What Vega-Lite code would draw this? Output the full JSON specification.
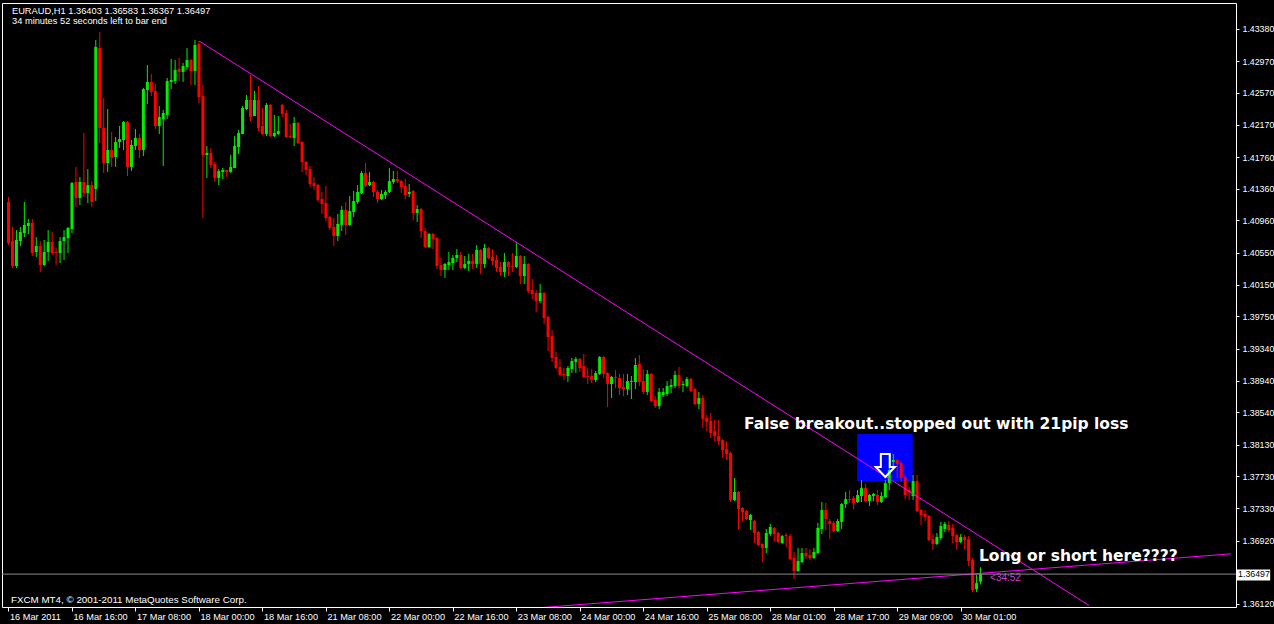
{
  "$schema": "https://vega.github.io/schema/vega-lite/v6.json",
  "width": 1234,
  "height": 604,
  "autosize": {"type": "none"},
  "padding": {"left": 2, "top": 3, "right": 38, "bottom": 17},
  "background": "#000000",
  "config": {
    "view": {"stroke": "#ffffff", "strokeWidth": 1, "fill": "#000000"},
    "font": "Liberation Sans",
    "axis": {"labelFont": "Liberation Sans", "labelOverlap": false, "labelBound": false, "labelFlush": false}
  },
  "datasets": {
    "bars": [
      {"i":0,"o":1.41193,"h":1.41256,"l":1.40650,"c":1.40675},
      {"i":1,"o":1.40700,"h":1.40878,"l":1.40360,"c":1.40385},
      {"i":2,"o":1.40385,"h":1.40839,"l":1.40360,"c":1.40713},
      {"i":3,"o":1.40700,"h":1.40878,"l":1.40637,"c":1.40814},
      {"i":4,"o":1.40801,"h":1.41193,"l":1.40751,"c":1.40903},
      {"i":5,"o":1.40890,"h":1.40978,"l":1.40789,"c":1.40928},
      {"i":6,"o":1.40928,"h":1.40978,"l":1.40511,"c":1.40549},
      {"i":7,"o":1.40562,"h":1.40751,"l":1.40499,"c":1.40637},
      {"i":8,"o":1.40637,"h":1.40700,"l":1.40310,"c":1.40398},
      {"i":9,"o":1.40398,"h":1.40713,"l":1.40385,"c":1.40562},
      {"i":10,"o":1.40562,"h":1.40839,"l":1.40448,"c":1.40688},
      {"i":11,"o":1.40688,"h":1.40814,"l":1.40524,"c":1.40549},
      {"i":12,"o":1.40562,"h":1.40612,"l":1.40398,"c":1.40549},
      {"i":13,"o":1.40549,"h":1.40751,"l":1.40423,"c":1.40700},
      {"i":14,"o":1.40700,"h":1.40839,"l":1.40461,"c":1.40751},
      {"i":15,"o":1.40738,"h":1.40878,"l":1.40549,"c":1.40865},
      {"i":16,"o":1.40852,"h":1.41445,"l":1.40801,"c":1.41432},
      {"i":17,"o":1.41445,"h":1.41635,"l":1.41130,"c":1.41243},
      {"i":18,"o":1.41243,"h":1.41509,"l":1.41155,"c":1.41445},
      {"i":19,"o":1.41445,"h":1.42063,"l":1.41256,"c":1.41306},
      {"i":20,"o":1.41306,"h":1.41609,"l":1.41180,"c":1.41407},
      {"i":21,"o":1.41407,"h":1.41457,"l":1.41130,"c":1.41193},
      {"i":22,"o":1.41356,"h":1.43237,"l":1.41205,"c":1.43149},
      {"i":23,"o":1.43136,"h":1.43338,"l":1.41937,"c":1.42127},
      {"i":24,"o":1.42127,"h":1.42505,"l":1.41559,"c":1.41685},
      {"i":25,"o":1.41685,"h":1.42366,"l":1.41572,"c":1.41849},
      {"i":26,"o":1.41849,"h":1.42076,"l":1.41635,"c":1.41748},
      {"i":27,"o":1.41761,"h":1.42013,"l":1.41635,"c":1.41950},
      {"i":28,"o":1.41950,"h":1.42152,"l":1.41874,"c":1.41987},
      {"i":29,"o":1.41975,"h":1.42215,"l":1.41849,"c":1.42203},
      {"i":30,"o":1.42203,"h":1.42215,"l":1.41521,"c":1.41635},
      {"i":31,"o":1.41635,"h":1.41975,"l":1.41584,"c":1.41912},
      {"i":32,"o":1.41899,"h":1.42114,"l":1.41849,"c":1.42000},
      {"i":33,"o":1.42000,"h":1.42051,"l":1.41748,"c":1.41849},
      {"i":34,"o":1.41849,"h":1.42631,"l":1.41773,"c":1.42618},
      {"i":35,"o":1.42606,"h":1.42922,"l":1.42430,"c":1.42707},
      {"i":36,"o":1.42707,"h":1.42809,"l":1.42530,"c":1.42581},
      {"i":37,"o":1.42593,"h":1.42682,"l":1.42114,"c":1.42152},
      {"i":38,"o":1.42152,"h":1.42404,"l":1.42051,"c":1.42266},
      {"i":39,"o":1.42240,"h":1.42354,"l":1.41647,"c":1.42316},
      {"i":40,"o":1.42291,"h":1.42758,"l":1.42240,"c":1.42719},
      {"i":41,"o":1.42707,"h":1.42997,"l":1.42618,"c":1.42732},
      {"i":42,"o":1.42719,"h":1.42985,"l":1.42682,"c":1.42859},
      {"i":43,"o":1.42871,"h":1.43010,"l":1.42719,"c":1.42834},
      {"i":44,"o":1.42834,"h":1.42947,"l":1.42707,"c":1.42909},
      {"i":45,"o":1.42897,"h":1.43136,"l":1.42859,"c":1.42985},
      {"i":46,"o":1.42985,"h":1.42997,"l":1.42669,"c":1.42846},
      {"i":47,"o":1.42846,"h":1.43237,"l":1.42669,"c":1.43174},
      {"i":48,"o":1.43187,"h":1.43224,"l":1.42442,"c":1.42518},
      {"i":49,"o":1.42530,"h":1.42669,"l":1.40991,"c":1.41786},
      {"i":50,"o":1.41786,"h":1.41899,"l":1.41496,"c":1.41811},
      {"i":51,"o":1.41811,"h":1.41874,"l":1.41622,"c":1.41660},
      {"i":52,"o":1.41673,"h":1.41698,"l":1.41445,"c":1.41496},
      {"i":53,"o":1.41496,"h":1.41609,"l":1.41407,"c":1.41584},
      {"i":54,"o":1.41572,"h":1.41622,"l":1.41483,"c":1.41597},
      {"i":55,"o":1.41597,"h":1.41597,"l":1.41509,"c":1.41572},
      {"i":56,"o":1.41572,"h":1.41786,"l":1.41559,"c":1.41635},
      {"i":57,"o":1.41622,"h":1.42025,"l":1.41622,"c":1.41899},
      {"i":58,"o":1.41887,"h":1.42101,"l":1.41799,"c":1.42063},
      {"i":59,"o":1.42051,"h":1.42404,"l":1.42051,"c":1.42379},
      {"i":60,"o":1.42366,"h":1.42543,"l":1.42354,"c":1.42480},
      {"i":61,"o":1.42480,"h":1.42796,"l":1.42215,"c":1.42266},
      {"i":62,"o":1.42278,"h":1.42593,"l":1.42278,"c":1.42480},
      {"i":63,"o":1.42480,"h":1.42656,"l":1.42088,"c":1.42127},
      {"i":64,"o":1.42152,"h":1.42379,"l":1.42038,"c":1.42051},
      {"i":65,"o":1.42051,"h":1.42442,"l":1.42025,"c":1.42417},
      {"i":66,"o":1.42417,"h":1.42430,"l":1.42013,"c":1.42025},
      {"i":67,"o":1.42025,"h":1.42291,"l":1.42013,"c":1.42063},
      {"i":68,"o":1.42051,"h":1.42278,"l":1.42038,"c":1.42088},
      {"i":69,"o":1.42417,"h":1.42430,"l":1.42266,"c":1.42304},
      {"i":70,"o":1.42316,"h":1.42354,"l":1.42000,"c":1.42013},
      {"i":71,"o":1.42025,"h":1.42178,"l":1.42000,"c":1.42013},
      {"i":72,"o":1.42000,"h":1.42266,"l":1.41899,"c":1.42190},
      {"i":73,"o":1.42190,"h":1.42203,"l":1.41925,"c":1.41937},
      {"i":74,"o":1.41950,"h":1.41962,"l":1.41572,"c":1.41698},
      {"i":75,"o":1.41698,"h":1.41710,"l":1.41534,"c":1.41597},
      {"i":76,"o":1.41609,"h":1.41647,"l":1.41382,"c":1.41420},
      {"i":77,"o":1.41432,"h":1.41509,"l":1.41344,"c":1.41394},
      {"i":78,"o":1.41407,"h":1.41420,"l":1.41193,"c":1.41218},
      {"i":79,"o":1.41230,"h":1.41319,"l":1.41042,"c":1.41168},
      {"i":80,"o":1.41180,"h":1.41394,"l":1.40953,"c":1.40991},
      {"i":81,"o":1.41004,"h":1.41016,"l":1.40839,"c":1.40865},
      {"i":82,"o":1.40878,"h":1.40991,"l":1.40637,"c":1.40763},
      {"i":83,"o":1.40763,"h":1.41042,"l":1.40700,"c":1.40916},
      {"i":84,"o":1.40903,"h":1.41142,"l":1.40826,"c":1.41092},
      {"i":85,"o":1.41092,"h":1.41193,"l":1.40776,"c":1.40903},
      {"i":86,"o":1.40903,"h":1.41268,"l":1.40890,"c":1.41079},
      {"i":87,"o":1.41067,"h":1.41331,"l":1.41004,"c":1.41205},
      {"i":88,"o":1.41193,"h":1.41407,"l":1.41168,"c":1.41319},
      {"i":89,"o":1.41306,"h":1.41584,"l":1.41294,"c":1.41559},
      {"i":90,"o":1.41559,"h":1.41685,"l":1.41382,"c":1.41394},
      {"i":91,"o":1.41407,"h":1.41572,"l":1.41394,"c":1.41445},
      {"i":92,"o":1.41445,"h":1.41457,"l":1.41256,"c":1.41319},
      {"i":93,"o":1.41319,"h":1.41344,"l":1.41180,"c":1.41230},
      {"i":94,"o":1.41230,"h":1.41344,"l":1.41218,"c":1.41294},
      {"i":95,"o":1.41281,"h":1.41344,"l":1.41230,"c":1.41319},
      {"i":96,"o":1.41319,"h":1.41622,"l":1.41306,"c":1.41457},
      {"i":97,"o":1.41445,"h":1.41584,"l":1.41420,"c":1.41483},
      {"i":98,"o":1.41483,"h":1.41584,"l":1.41432,"c":1.41457},
      {"i":99,"o":1.41457,"h":1.41470,"l":1.41306,"c":1.41382},
      {"i":100,"o":1.41394,"h":1.41483,"l":1.41230,"c":1.41281},
      {"i":101,"o":1.41294,"h":1.41420,"l":1.41256,"c":1.41319},
      {"i":102,"o":1.41331,"h":1.41344,"l":1.40966,"c":1.41054},
      {"i":103,"o":1.41054,"h":1.41155,"l":1.40941,"c":1.41104},
      {"i":104,"o":1.41104,"h":1.41117,"l":1.40738,"c":1.40826},
      {"i":105,"o":1.40826,"h":1.40865,"l":1.40612,"c":1.40625},
      {"i":106,"o":1.40625,"h":1.40801,"l":1.40612,"c":1.40789},
      {"i":107,"o":1.40789,"h":1.40801,"l":1.40599,"c":1.40725},
      {"i":108,"o":1.40738,"h":1.40751,"l":1.40347,"c":1.40385},
      {"i":109,"o":1.40398,"h":1.40486,"l":1.40259,"c":1.40335},
      {"i":110,"o":1.40335,"h":1.40423,"l":1.40234,"c":1.40411},
      {"i":111,"o":1.40398,"h":1.40562,"l":1.40335,"c":1.40436},
      {"i":112,"o":1.40423,"h":1.40524,"l":1.40335,"c":1.40486},
      {"i":113,"o":1.40486,"h":1.40599,"l":1.40436,"c":1.40524},
      {"i":114,"o":1.40524,"h":1.40562,"l":1.40347,"c":1.40360},
      {"i":115,"o":1.40360,"h":1.40511,"l":1.40347,"c":1.40411},
      {"i":116,"o":1.40411,"h":1.40537,"l":1.40322,"c":1.40448},
      {"i":117,"o":1.40448,"h":1.40537,"l":1.40347,"c":1.40411},
      {"i":118,"o":1.40411,"h":1.40650,"l":1.40360,"c":1.40587},
      {"i":119,"o":1.40587,"h":1.40599,"l":1.40285,"c":1.40411},
      {"i":120,"o":1.40411,"h":1.40663,"l":1.40360,"c":1.40612},
      {"i":121,"o":1.40612,"h":1.40625,"l":1.40473,"c":1.40486},
      {"i":122,"o":1.40499,"h":1.40599,"l":1.40398,"c":1.40448},
      {"i":123,"o":1.40461,"h":1.40524,"l":1.40310,"c":1.40360},
      {"i":124,"o":1.40373,"h":1.40436,"l":1.40259,"c":1.40310},
      {"i":125,"o":1.40310,"h":1.40549,"l":1.40247,"c":1.40436},
      {"i":126,"o":1.40436,"h":1.40448,"l":1.40259,"c":1.40373},
      {"i":127,"o":1.40385,"h":1.40549,"l":1.40310,"c":1.40373},
      {"i":128,"o":1.40373,"h":1.40688,"l":1.40360,"c":1.40511},
      {"i":129,"o":1.40511,"h":1.40524,"l":1.40158,"c":1.40259},
      {"i":130,"o":1.40259,"h":1.40511,"l":1.40158,"c":1.40411},
      {"i":131,"o":1.40411,"h":1.40423,"l":1.40044,"c":1.40069},
      {"i":132,"o":1.40082,"h":1.40221,"l":1.39968,"c":1.40032},
      {"i":133,"o":1.40044,"h":1.40082,"l":1.39805,"c":1.39943},
      {"i":134,"o":1.39943,"h":1.40158,"l":1.39918,"c":1.40044},
      {"i":135,"o":1.40044,"h":1.40057,"l":1.39654,"c":1.39729},
      {"i":136,"o":1.39742,"h":1.39754,"l":1.39312,"c":1.39489},
      {"i":137,"o":1.39501,"h":1.39577,"l":1.39174,"c":1.39224},
      {"i":138,"o":1.39237,"h":1.39300,"l":1.39085,"c":1.39098},
      {"i":139,"o":1.39111,"h":1.39211,"l":1.38997,"c":1.39010},
      {"i":140,"o":1.39023,"h":1.39098,"l":1.38946,"c":1.39010},
      {"i":141,"o":1.38997,"h":1.39123,"l":1.38921,"c":1.39098},
      {"i":142,"o":1.39085,"h":1.39224,"l":1.39035,"c":1.39186},
      {"i":143,"o":1.39174,"h":1.39237,"l":1.39035,"c":1.39211},
      {"i":144,"o":1.39211,"h":1.39224,"l":1.39048,"c":1.39098},
      {"i":145,"o":1.39123,"h":1.39275,"l":1.38972,"c":1.38985},
      {"i":146,"o":1.38997,"h":1.39098,"l":1.38896,"c":1.38985},
      {"i":147,"o":1.38997,"h":1.39085,"l":1.38908,"c":1.38946},
      {"i":148,"o":1.38946,"h":1.39060,"l":1.38921,"c":1.39035},
      {"i":149,"o":1.39023,"h":1.39249,"l":1.39010,"c":1.39237},
      {"i":150,"o":1.39237,"h":1.39249,"l":1.38972,"c":1.39023},
      {"i":151,"o":1.39035,"h":1.39048,"l":1.38606,"c":1.38896},
      {"i":152,"o":1.38896,"h":1.38997,"l":1.38719,"c":1.38985},
      {"i":153,"o":1.38985,"h":1.39073,"l":1.38845,"c":1.38972},
      {"i":154,"o":1.38972,"h":1.39023,"l":1.38757,"c":1.38845},
      {"i":155,"o":1.38858,"h":1.39023,"l":1.38744,"c":1.38832},
      {"i":156,"o":1.38832,"h":1.39023,"l":1.38757,"c":1.38933},
      {"i":157,"o":1.38921,"h":1.38997,"l":1.38706,"c":1.38933},
      {"i":158,"o":1.38921,"h":1.39224,"l":1.38832,"c":1.39136},
      {"i":159,"o":1.39149,"h":1.39262,"l":1.38870,"c":1.38921},
      {"i":160,"o":1.38933,"h":1.39085,"l":1.38770,"c":1.38795},
      {"i":161,"o":1.38795,"h":1.39073,"l":1.38757,"c":1.39023},
      {"i":162,"o":1.39023,"h":1.39035,"l":1.38669,"c":1.38681},
      {"i":163,"o":1.38694,"h":1.38744,"l":1.38593,"c":1.38618},
      {"i":164,"o":1.38618,"h":1.38845,"l":1.38580,"c":1.38795},
      {"i":165,"o":1.38757,"h":1.38845,"l":1.38732,"c":1.38795},
      {"i":166,"o":1.38770,"h":1.38933,"l":1.38744,"c":1.38870},
      {"i":167,"o":1.38858,"h":1.38959,"l":1.38782,"c":1.38883},
      {"i":168,"o":1.38870,"h":1.39060,"l":1.38845,"c":1.39010},
      {"i":169,"o":1.39010,"h":1.39111,"l":1.38845,"c":1.38870},
      {"i":170,"o":1.38883,"h":1.38933,"l":1.38795,"c":1.38896},
      {"i":171,"o":1.38870,"h":1.38985,"l":1.38858,"c":1.38959},
      {"i":172,"o":1.38959,"h":1.38972,"l":1.38795,"c":1.38807},
      {"i":173,"o":1.38832,"h":1.38845,"l":1.38631,"c":1.38644},
      {"i":174,"o":1.38644,"h":1.38795,"l":1.38580,"c":1.38719},
      {"i":175,"o":1.38719,"h":1.38757,"l":1.38341,"c":1.38454},
      {"i":176,"o":1.38467,"h":1.38505,"l":1.38302,"c":1.38417},
      {"i":177,"o":1.38429,"h":1.38530,"l":1.38214,"c":1.38277},
      {"i":178,"o":1.38302,"h":1.38442,"l":1.38176,"c":1.38239},
      {"i":179,"o":1.38239,"h":1.38442,"l":1.38126,"c":1.38176},
      {"i":180,"o":1.38189,"h":1.38201,"l":1.37962,"c":1.38063},
      {"i":181,"o":1.38075,"h":1.38176,"l":1.37937,"c":1.38013},
      {"i":182,"o":1.38025,"h":1.38038,"l":1.37407,"c":1.37432},
      {"i":183,"o":1.37432,"h":1.37710,"l":1.37419,"c":1.37533},
      {"i":184,"o":1.37533,"h":1.37545,"l":1.37066,"c":1.37318},
      {"i":185,"o":1.37331,"h":1.37344,"l":1.37167,"c":1.37281},
      {"i":186,"o":1.37293,"h":1.37306,"l":1.37180,"c":1.37192},
      {"i":187,"o":1.37180,"h":1.37256,"l":1.37053,"c":1.37243},
      {"i":188,"o":1.37167,"h":1.37180,"l":1.36889,"c":1.37015},
      {"i":189,"o":1.37028,"h":1.37040,"l":1.36851,"c":1.36864},
      {"i":190,"o":1.36877,"h":1.36889,"l":1.36650,"c":1.36826},
      {"i":191,"o":1.36826,"h":1.37066,"l":1.36763,"c":1.37015},
      {"i":192,"o":1.37003,"h":1.37130,"l":1.36977,"c":1.37092},
      {"i":193,"o":1.37079,"h":1.37092,"l":1.36902,"c":1.37003},
      {"i":194,"o":1.37015,"h":1.37028,"l":1.36889,"c":1.36902},
      {"i":195,"o":1.36889,"h":1.36990,"l":1.36877,"c":1.36977},
      {"i":196,"o":1.36990,"h":1.37015,"l":1.36839,"c":1.36977},
      {"i":197,"o":1.36977,"h":1.37003,"l":1.36675,"c":1.36687},
      {"i":198,"o":1.36700,"h":1.36776,"l":1.36435,"c":1.36536},
      {"i":199,"o":1.36536,"h":1.36826,"l":1.36523,"c":1.36662},
      {"i":200,"o":1.36650,"h":1.36826,"l":1.36637,"c":1.36763},
      {"i":201,"o":1.36763,"h":1.36826,"l":1.36687,"c":1.36725},
      {"i":202,"o":1.36738,"h":1.36813,"l":1.36675,"c":1.36700},
      {"i":203,"o":1.36700,"h":1.36826,"l":1.36687,"c":1.36776},
      {"i":204,"o":1.36763,"h":1.37142,"l":1.36751,"c":1.37079},
      {"i":205,"o":1.37066,"h":1.37407,"l":1.37003,"c":1.37306},
      {"i":206,"o":1.37306,"h":1.37394,"l":1.37053,"c":1.37192},
      {"i":207,"o":1.37167,"h":1.37192,"l":1.36939,"c":1.37130},
      {"i":208,"o":1.37142,"h":1.37167,"l":1.37028,"c":1.37040},
      {"i":209,"o":1.37040,"h":1.37192,"l":1.37028,"c":1.37167},
      {"i":210,"o":1.37155,"h":1.37394,"l":1.37066,"c":1.37382},
      {"i":211,"o":1.37382,"h":1.37533,"l":1.37331,"c":1.37444},
      {"i":212,"o":1.37444,"h":1.37558,"l":1.37394,"c":1.37432},
      {"i":213,"o":1.37457,"h":1.37482,"l":1.37318,"c":1.37394},
      {"i":214,"o":1.37407,"h":1.37558,"l":1.37394,"c":1.37495},
      {"i":215,"o":1.37482,"h":1.37684,"l":1.37407,"c":1.37583},
      {"i":216,"o":1.37583,"h":1.37634,"l":1.37407,"c":1.37419},
      {"i":217,"o":1.37419,"h":1.37508,"l":1.37356,"c":1.37495},
      {"i":218,"o":1.37482,"h":1.37520,"l":1.37419,"c":1.37508},
      {"i":219,"o":1.37495,"h":1.37558,"l":1.37369,"c":1.37407},
      {"i":220,"o":1.37407,"h":1.37533,"l":1.37394,"c":1.37482},
      {"i":221,"o":1.37470,"h":1.37684,"l":1.37457,"c":1.37646},
      {"i":222,"o":1.37646,"h":1.38013,"l":1.37558,"c":1.37811},
      {"i":223,"o":1.37912,"h":1.38013,"l":1.37849,"c":1.37937},
      {"i":224,"o":1.37937,"h":1.37949,"l":1.37710,"c":1.37887},
      {"i":225,"o":1.37899,"h":1.37912,"l":1.37659,"c":1.37710},
      {"i":226,"o":1.37723,"h":1.37748,"l":1.37444,"c":1.37495},
      {"i":227,"o":1.37558,"h":1.37596,"l":1.37432,"c":1.37533},
      {"i":228,"o":1.37482,"h":1.37748,"l":1.37432,"c":1.37671},
      {"i":229,"o":1.37671,"h":1.37748,"l":1.37281,"c":1.37293},
      {"i":230,"o":1.37306,"h":1.37318,"l":1.37117,"c":1.37243},
      {"i":231,"o":1.37256,"h":1.37306,"l":1.37167,"c":1.37218},
      {"i":232,"o":1.37230,"h":1.37243,"l":1.36914,"c":1.36927},
      {"i":233,"o":1.36939,"h":1.37003,"l":1.36801,"c":1.36877},
      {"i":234,"o":1.36877,"h":1.37015,"l":1.36864,"c":1.36965},
      {"i":235,"o":1.36952,"h":1.37155,"l":1.36927,"c":1.37104},
      {"i":236,"o":1.37066,"h":1.37155,"l":1.37028,"c":1.37130},
      {"i":237,"o":1.37117,"h":1.37167,"l":1.37028,"c":1.37053},
      {"i":238,"o":1.37079,"h":1.37130,"l":1.36889,"c":1.36977},
      {"i":239,"o":1.36990,"h":1.37003,"l":1.36801,"c":1.36902},
      {"i":240,"o":1.36902,"h":1.37003,"l":1.36889,"c":1.36965},
      {"i":241,"o":1.36965,"h":1.36990,"l":1.36813,"c":1.36927},
      {"i":242,"o":1.36939,"h":1.36977,"l":1.36599,"c":1.36662},
      {"i":243,"o":1.36675,"h":1.36700,"l":1.36271,"c":1.36296},
      {"i":244,"o":1.36308,"h":1.36486,"l":1.36271,"c":1.36384},
      {"i":245,"o":1.36403,"h":1.36583,"l":1.36367,"c":1.36497}
    ]
  },
  "layer": [
    {
      "data": {"values": [{"i": 213.9, "i2": 227.9, "p": 1.38265, "p2": 1.37672}]},
      "mark": {"type": "rect", "color": "#0000ff"},
      "encoding": {
        "x": {
          "field": "i", "type": "quantitative",
          "scale": {"domain": [-0.375, 308.125], "nice": false, "zero": false},
          "axis": {
            "orient": "bottom", "title": null, "grid": false, "domain": false,
            "values": [0, 16, 32, 48, 64, 80, 96, 112, 128, 144, 160, 176, 192, 208, 224, 240],
            "tickCount": 40,
            "labelExpr": "['16 Mar 2011','16 Mar 16:00','17 Mar 08:00','18 Mar 00:00','18 Mar 16:00','21 Mar 08:00','22 Mar 00:00','22 Mar 16:00','23 Mar 08:00','24 Mar 00:00','24 Mar 16:00','25 Mar 08:00','28 Mar 01:00','28 Mar 17:00','29 Mar 09:00','30 Mar 01:00'][round(datum.value / 16)]",
            "tickColor": "#ffffff", "tickSize": 4, "tickWidth": 1,
            "labelColor": "#ffffff", "labelFontSize": 9.2, "labelAlign": "left",
            "labelBaseline": "top", "labelPadding": 1, "labelOffset": 1,
            "labelFlush": false, "labelOverlap": false, "labelBound": false
          }
        },
        "x2": {"field": "i2"},
        "y": {
          "field": "p", "type": "quantitative",
          "scale": {"domain": [1.36082, 1.43704], "nice": false, "zero": false},
          "axis": {
            "orient": "right", "title": null, "grid": false, "domain": false,
            "values": [1.4338, 1.4297, 1.4257, 1.4217, 1.4176, 1.4136, 1.4096, 1.4055, 1.4015, 1.3975, 1.3934, 1.3894, 1.3854, 1.3813, 1.3773, 1.3733, 1.3692, 1.3612],
            "tickCount": 40,
            "format": ".5f",
            "tickColor": "#ffffff", "tickSize": 3, "tickWidth": 1,
            "labelColor": "#ffffff", "labelFontSize": 8.8, "labelPadding": 3,
            "labelFlush": false, "labelOverlap": false, "labelBound": false
          }
        },
        "y2": {"field": "p2"}
      }
    },
    {
      "data": {"name": "bars"},
      "mark": {"type": "rule", "strokeWidth": 1},
      "encoding": {
        "x": {"field": "i", "type": "quantitative"},
        "y": {"field": "l", "type": "quantitative"},
        "y2": {"field": "h"},
        "color": {"condition": {"test": "datum.c >= datum.o", "value": "#00ee00"}, "value": "#ff0000"}
      }
    },
    {
      "data": {"name": "bars"},
      "mark": {"type": "bar", "size": 3},
      "encoding": {
        "x": {"field": "i", "type": "quantitative"},
        "y": {"field": "o", "type": "quantitative"},
        "y2": {"field": "c"},
        "color": {"condition": {"test": "datum.c >= datum.o", "value": "#00ee00"}, "value": "#ff0000"}
      }
    },
    {
      "data": {"values": [
        {"line": "down", "i": 48.05, "p": 1.43224},
        {"line": "down", "i": 272.4, "p": 1.36100},
        {"line": "up", "i": 132.9, "p": 1.36069},
        {"line": "up", "i": 308.1, "p": 1.36753}
      ]},
      "mark": {"type": "line", "color": "#ff00ff", "strokeWidth": 1, "clip": true},
      "encoding": {
        "x": {"field": "i", "type": "quantitative"},
        "y": {"field": "p", "type": "quantitative"},
        "detail": {"field": "line"}
      }
    },
    {
      "data": {"values": [{"p": 1.36497}]},
      "mark": {"type": "rule", "color": "#8a8a8a", "strokeWidth": 1},
      "encoding": {"y": {"field": "p", "type": "quantitative"}}
    },
    {
      "data": {"values": [{"i": 221.0, "p": 1.37868}]},
      "mark": {
        "type": "point",
        "shape": "M -0.39 -1 L 0.39 -1 L 0.39 0.13 L 0.83 0.13 L 0 1 L -0.83 0.13 L -0.39 0.13 Z",
        "size": 529, "filled": false, "stroke": "#ffffff", "strokeWidth": 2, "opacity": 1
      },
      "encoding": {
        "x": {"field": "i", "type": "quantitative"},
        "y": {"field": "p", "type": "quantitative"}
      }
    },
    {
      "data": {"values": [
        {"i": 0.875, "p": 1.43566, "label": "EURAUD,H1  1.36403 1.36583 1.36367 1.36497"},
        {"i": 0.875, "p": 1.43440, "label": "34 minutes 52 seconds left to bar end"}
      ]},
      "mark": {"type": "text", "align": "left", "baseline": "alphabetic", "color": "#ffffff", "font": "Liberation Sans", "fontSize": 9.3},
      "encoding": {
        "x": {"field": "i", "type": "quantitative"},
        "y": {"field": "p", "type": "quantitative"},
        "text": {"field": "label"}
      }
    },
    {
      "data": {"values": [{"i": 0.625, "p": 1.36132, "label": "FXCM MT4, © 2001-2011 MetaQuotes Software Corp."}]},
      "mark": {"type": "text", "align": "left", "baseline": "alphabetic", "color": "#ffffff", "font": "Liberation Sans", "fontSize": 9.8},
      "encoding": {
        "x": {"field": "i", "type": "quantitative"},
        "y": {"field": "p", "type": "quantitative"},
        "text": {"field": "label"}
      }
    },
    {
      "data": {"values": [
        {"i": 185.4, "p": 1.38328, "label": "False breakout..stopped out with 21pip loss"},
        {"i": 244.6, "p": 1.36662, "label": "Long or short here????"}
      ]},
      "mark": {"type": "text", "align": "left", "baseline": "alphabetic", "color": "#ffffff", "font": "DejaVu Sans", "fontWeight": "bold", "fontSize": 15.5},
      "encoding": {
        "x": {"field": "i", "type": "quantitative"},
        "y": {"field": "p", "type": "quantitative"},
        "text": {"field": "label"}
      }
    },
    {
      "data": {"values": [{"i": 247.4, "p": 1.36409, "label": "<34:52"}]},
      "mark": {"type": "text", "align": "left", "baseline": "alphabetic", "color": "#cc44cc", "font": "Liberation Sans", "fontSize": 10},
      "encoding": {
        "x": {"field": "i", "type": "quantitative"},
        "y": {"field": "p", "type": "quantitative"},
        "text": {"field": "label"}
      }
    },
    {
      "data": {"values": [{"i": 309.6, "i2": 318, "p": 1.36555, "p2": 1.36416}]},
      "mark": {"type": "rect", "color": "#ffffff", "clip": false},
      "encoding": {
        "x": {"field": "i", "type": "quantitative"},
        "x2": {"field": "i2"},
        "y": {"field": "p", "type": "quantitative"},
        "y2": {"field": "p2"}
      }
    },
    {
      "data": {"values": [{"i": 309.9, "p": 1.36497, "label": "1.36497"}]},
      "mark": {"type": "text", "align": "left", "baseline": "middle", "color": "#000000", "font": "Liberation Sans", "fontSize": 8.8},
      "encoding": {
        "x": {"field": "i", "type": "quantitative"},
        "y": {"field": "p", "type": "quantitative"},
        "text": {"field": "label"}
      }
    }
  ]
}
